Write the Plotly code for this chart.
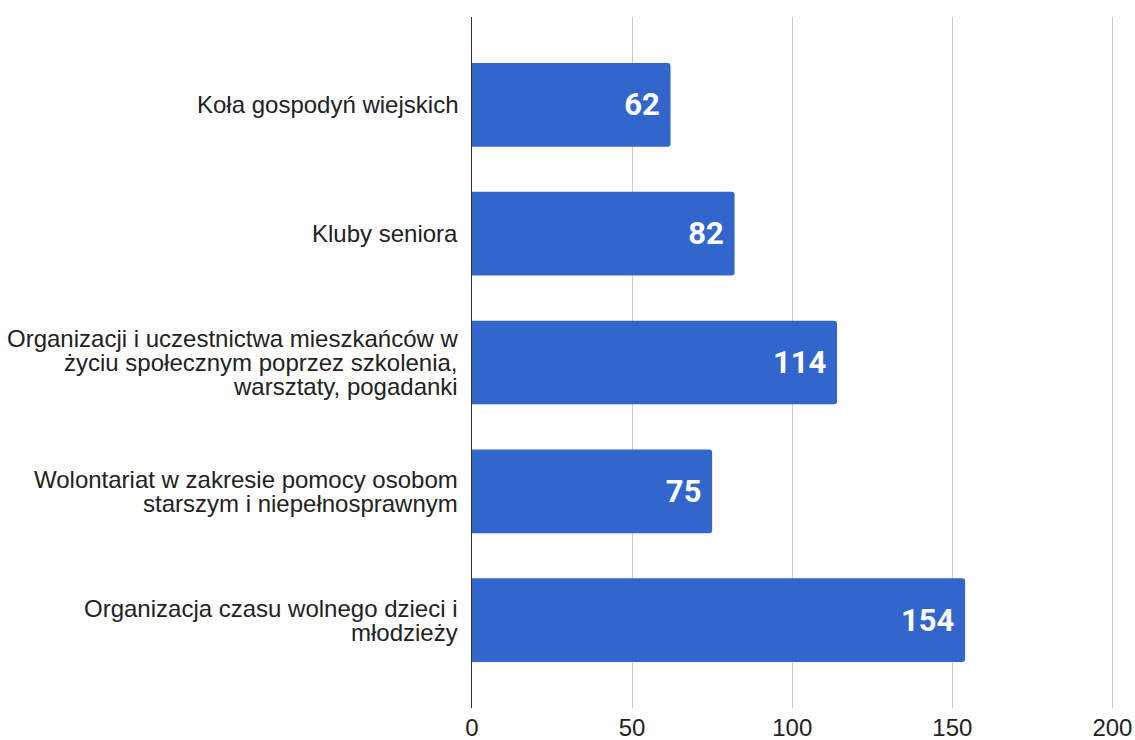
import plotly.graph_objects as go

categories = [
    "Koła gospodyń wiejskich",
    "Kluby seniora",
    "Organizacji i uczestnictwa mieszkańców w<br>życiu społecznym poprzez szkolenia,<br>warsztaty, pogadanki",
    "Wolontariat w zakresie pomocy osobom<br>starszym i niepełnosprawnym",
    "Organizacja czasu wolnego dzieci i<br>młodzieży",
]
values = [62, 82, 114, 75, 154]
x_ticks = [0, 50, 100, 150, 200]

LABEL_FONT = dict(family="Liberation Sans", size=24, color="#222222")
LINE_H = 24

fig = go.Figure(
    go.Bar(
        y=categories,
        x=values,
        orientation="h",
        marker=dict(color="#3366cc", cornerradius=3, line=dict(width=0)),
        width=0.65,
        text=[f"{v}\u00a0" for v in values],
        textposition="inside",
        insidetextanchor="end",
        textfont=dict(family="Roboto", size=31, color="white", weight="bold"),
        cliponaxis=False,
        hoverinfo="skip",
    )
)

# category labels, one annotation per line for tighter line spacing
for cat in categories:
    lines = cat.split("<br>")
    n = len(lines)
    for j, line in enumerate(lines):
        fig.add_annotation(
            x=0, xref="paper",
            y=cat, yref="y",
            xanchor="right", yanchor="middle",
            xshift=-12,
            yshift=((n - 1) / 2 - j) * LINE_H,
            text=line,
            showarrow=False,
            font=LABEL_FONT,
            align="right",
        )

fig.update_layout(
    width=1135,
    height=740,
    margin=dict(l=472, r=21, t=17, b=32),
    paper_bgcolor="white",
    plot_bgcolor="white",
    showlegend=False,
    font=LABEL_FONT,
)

fig.update_xaxes(
    range=[0, 200.5],
    tickvals=x_ticks,
    ticktext=[str(t) for t in x_ticks],
    showgrid=True,
    gridcolor="#cccccc",
    gridwidth=1,
    zeroline=False,
    showline=False,
    ticks="",
    automargin=False,
    ticklabelstandoff=3,
    tickfont=LABEL_FONT,
)

fig.update_yaxes(
    type="category",
    categoryorder="array",
    categoryarray=categories,
    range=[len(categories) - 1 + 0.683, -0.683],
    showgrid=False,
    showline=True,
    linecolor="#333333",
    linewidth=1,
    ticks="",
    showticklabels=False,
    automargin=False,
)

# remove the default page margin so the figure fills the window exactly
fig.write_html(
    "out.html",
    config={"displayModeBar": False},
    post_script="document.body.style.margin='0';document.body.style.overflow='hidden';",
)
